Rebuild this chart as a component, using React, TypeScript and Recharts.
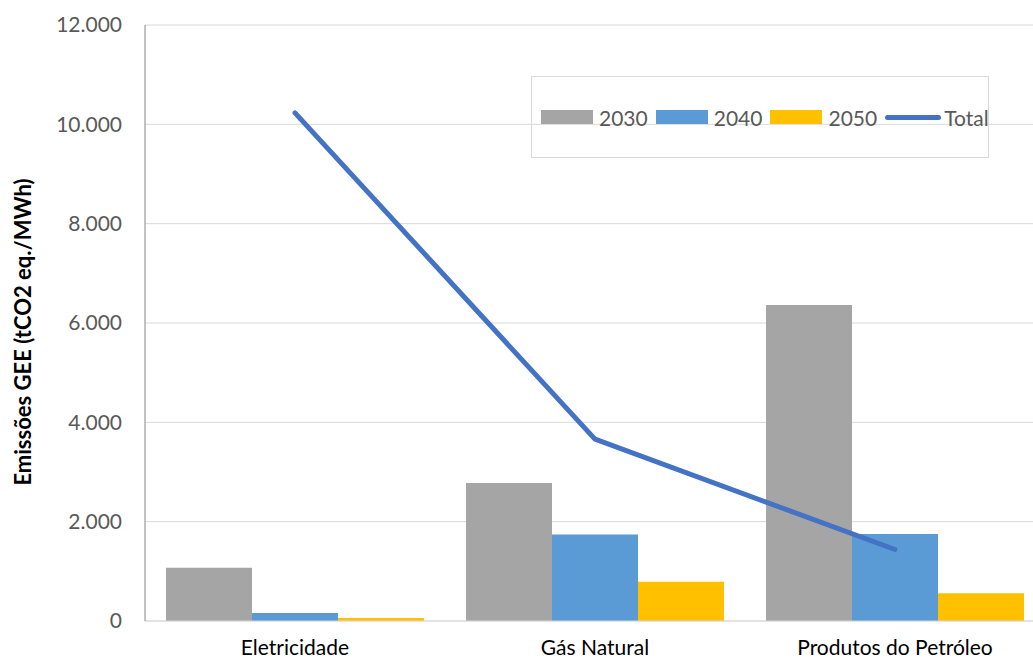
import { Bar, CartesianGrid, ComposedChart, Legend, Line, XAxis, YAxis } from "recharts"

const categories = ["Eletricidade", "Gás Natural", "Produtos do Petróleo"]
const v2030 = [1070, 2780, 6360]
const v2040 = [160, 1740, 1750]
const v2050 = [60, 790, 560]
const total = [10230, 3660, 1440]
const yTicks = [0, 2000, 4000, 6000, 8000, 10000, 12000]

const data = categories.map((name, i) => ({
  name,
  y2030: v2030[i],
  y2040: v2040[i],
  y2050: v2050[i],
  total: total[i],
}))

const font = "Lato, 'Open Sans', sans-serif"

const fmt = (v: number) => (v === 0 ? "0" : v.toLocaleString("de-DE"))

function LegendBox() {
  const item = (color: string, label: string, line?: boolean) => (
    <div style={{ display: "flex", alignItems: "center", marginRight: 8 }}>
      {line ? (
        <div style={{ width: 56, height: 5, borderRadius: 3, background: color, marginRight: 3 }} />
      ) : (
        <div style={{ width: 52, height: 14, background: color, marginRight: 6 }} />
      )}
      <span>{label}</span>
    </div>
  )
  return (
    <div
      style={{
        width: 458,
        height: 82,
        border: "1px solid #d9d9d9",
        display: "flex",
        alignItems: "center",
        paddingLeft: 9,
        boxSizing: "border-box",
        fontFamily: font,
        fontSize: 21,
        color: "#595959",
      }}
    >
      {item("#a5a5a5", "2030")}
      {item("#5b9bd5", "2040")}
      {item("#ffc000", "2050")}
      {item("#4472c4", "Total", true)}
    </div>
  )
}

export default function App() {
  return (
    <div style={{ position: "absolute", left: 0, top: 0, width: 1033, height: 659, overflow: "hidden", background: "#fff" }}>
      <ComposedChart
        width={1060}
        height={659}
        data={data}
        margin={{ top: 25, right: 15, bottom: 0, left: 0 }}
        barCategoryGap="7%"
        barGap={0}
      >
        <CartesianGrid vertical={false} stroke="#d9d9d9" />
        <XAxis
          dataKey="name"
          height={38}
          tickLine={false}
          tickSize={0}
          tickMargin={19}
          axisLine={{ stroke: "#d9d9d9" }}
          tick={{ fill: "#000", fontSize: 21, fontFamily: font }}
        />
        <YAxis
          width={145}
          domain={[0, 12000]}
          ticks={yTicks}
          tickFormatter={fmt}
          tickLine={false}
          tickSize={0}
          tickMargin={23}
          axisLine={{ stroke: "#868686" }}
          tick={{ fill: "#595959", fontSize: 21, fontFamily: font }}
          label={{
            content: () => (
              <text
                x={22}
                y={332}
                transform="rotate(-90, 22, 332)"
                textAnchor="middle"
                dominantBaseline="central"
                fontFamily={font}
                fontWeight="bold"
                fontSize={22}
                fill="#000"
              >
                Emissões GEE (tCO2 eq./MWh)
              </text>
            ),
          }}
        />
        <Legend
          content={() => <LegendBox />}
          layout="vertical"
          align="center"
          verticalAlign="middle"
          wrapperStyle={{ position: "absolute", left: 531, top: 76, width: 458 }}
        />
        <Bar dataKey="y2030" name="2030" fill="#a5a5a5" isAnimationActive={false} />
        <Bar dataKey="y2040" name="2040" fill="#5b9bd5" isAnimationActive={false} />
        <Bar dataKey="y2050" name="2050" fill="#ffc000" isAnimationActive={false} />
        <Line
          dataKey="total"
          name="Total"
          stroke="#4472c4"
          strokeWidth={5}
          strokeLinecap="round"
          dot={false}
          isAnimationActive={false}
        />
      </ComposedChart>
    </div>
  )
}
